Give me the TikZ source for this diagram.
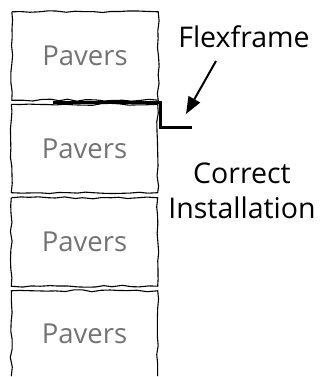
\documentclass[tikz,border=0pt]{standalone}
\usepackage{fontspec}
\setmainfont{Open Sans}
\usetikzlibrary{decorations.pathmorphing,arrows.meta}
\begin{document}
\begin{tikzpicture}[x=1pt,y=-1pt,
  paver/.style={draw=none,minimum width=146pt,minimum height=88pt,inner sep=0pt,text=black!55,font=\fontsize{27.5}{28}\selectfont},
  wobbly/.style={draw=black,line width=1.1pt,decorate,decoration={random steps,segment length=9pt,amplitude=1pt}},
  lbl/.style={font=\fontsize{28.5}{35}\selectfont,align=center,inner sep=0pt}]
\pgfmathsetseed{7}
\useasboundingbox (0,0) rectangle (320,377);
\node[paver] (p1) at (85,56) {Pavers};
\node[paver] (p2) at (84.5,148.5) {Pavers};
\node[paver] (p3) at (84.5,242) {Pavers};
\node[paver,minimum height=86pt] (p4) at (84.5,334) {Pavers};
\draw[wobbly] (p1.north west) -- (p1.north east) -- (p1.south east) -- (p1.south west) -- (p1.north west);
\draw[wobbly] (p2.north west) -- (p2.north east) -- (p2.south east) -- (p2.south west) -- (p2.north west);
\draw[wobbly] (p3.north west) -- (p3.north east) -- (p3.south east) -- (p3.south west) -- (p3.north west);
\draw[wobbly] ([yshift=1pt]p4.south west) -- (p4.north west) -- (p4.north east) -- ([yshift=1pt]p4.south east);
\coordinate (f0) at (53,102.5);
\coordinate (f1) at (160,102.5);
\coordinate (f2) at (160,127);
\coordinate (f3) at (192,127);
\draw[line width=3pt] (f0) -- (f1) -- (f2) -- (f3);
\node[lbl] (flex) at (244,37) {Flexframe};
\node[lbl] (corr) at (242,191) {Correct\\Installation};
\coordinate (tip) at (186,114);
\draw[line width=2pt,-{Triangle[length=17pt,width=13pt]}] (216,61) -- (tip);
\end{tikzpicture}
\end{document}
